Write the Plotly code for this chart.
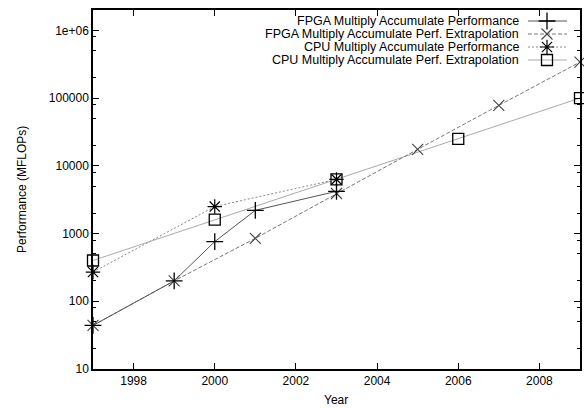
import plotly.graph_objects as go

# ---- data ----
fpga_years = [1997, 1999, 2000, 2001, 2003]
fpga_perf = [44, 200, 760, 2200, 4200]

fpga_ext_years = [1997, 1999, 2001, 2003, 2005, 2007, 2009]
fpga_ext_perf = [44, 200, 850, 3900, 17500, 78000, 340000]

cpu_years = [1997, 2000, 2003]
cpu_perf = [270, 2500, 6300]

cpu_ext_years = [1997, 2000, 2003, 2006, 2009]
cpu_ext_perf = [400, 1600, 6300, 25000, 100000]

series_names = [
    "FPGA Multiply Accumulate Performance",
    "FPGA Multiply Accumulate Perf. Extrapolation",
    "CPU Multiply Accumulate Performance",
    "CPU Multiply Accumulate Perf. Extrapolation",
]

x_ticks = [1998, 2000, 2002, 2004, 2006, 2008]
y_ticks = [10, 100, 1000, 10000, 100000, 1000000]
y_tick_text = ["10", "100", "1000", "10000", "100000", "1e+06"]
y_minor = [m * d for d in [10, 100, 1000, 10000, 100000, 1000000] for m in (2, 5, 8)]

FONT = "Liberation Sans, Arial, sans-serif"

styles = [
    dict(line=dict(color="#555555", width=1, dash="solid"),
         marker=dict(symbol="cross-thin", size=12, line=dict(color="black", width=1.3))),
    dict(line=dict(color="#777777", width=1, dash="4px,2px"),
         marker=dict(symbol="x-thin", size=11, line=dict(color="#444444", width=1.1))),
    dict(line=dict(color="#888888", width=1, dash="2px,2px"),
         marker=dict(symbol="asterisk", size=12, line=dict(color="black", width=1.2))),
    dict(line=dict(color="#aaaaaa", width=1, dash="solid"),
         marker=dict(symbol="square-open", size=11, color="black", line=dict(color="black", width=1.3))),
]

data = [
    (fpga_years, fpga_perf),
    (fpga_ext_years, fpga_ext_perf),
    (cpu_years, cpu_perf),
    (cpu_ext_years, cpu_ext_perf),
]

fig = go.Figure()
for i in [3, 1, 2, 0]:
    xs, ys = data[i]
    st = styles[i]
    fig.add_trace(go.Scatter(x=xs, y=ys, mode="lines+markers", name=series_names[i],
                             line=st["line"], marker=st["marker"], showlegend=False,
                             cliponaxis=False))

# custom gnuplot-style legend (text left, sample right)
L, R, T, B = 93, 580, 10, 369
W, H = R - L, B - T
row_y = [21, 34, 47, 60]
for i, name in enumerate(series_names):
    py = row_y[i]
    yf = (B - py) / H
    x0 = (528 - L) / W
    x1 = (567 - L) / W
    xm = (547 - L) / W
    st = styles[i]
    fig.add_trace(go.Scatter(x=[x0, x1], y=[yf, yf], mode="lines", line=st["line"],
                             xaxis="x2", yaxis="y2", showlegend=False, hoverinfo="skip"))
    fig.add_trace(go.Scatter(x=[xm], y=[yf], mode="markers", marker=st["marker"],
                             xaxis="x2", yaxis="y2", showlegend=False, hoverinfo="skip"))
    fig.add_annotation(x=(521 - L) / W, y=yf, xref="paper", yref="paper", text=name,
                       showarrow=False, xanchor="right", yanchor="middle",
                       font=dict(family=FONT, size=12.5, color="black"))

# axis titles as annotations for exact placement
fig.add_annotation(x=(336 - L) / W, y=(B - 400) / H, xref="paper", yref="paper",
                   text="Year", showarrow=False, xanchor="center", yanchor="middle",
                   font=dict(family=FONT, size=12, color="black"))
fig.add_annotation(x=(22 - L) / W, y=(B - 190) / H, xref="paper", yref="paper",
                   text="Performance (MFLOPs)", showarrow=False, textangle=-90,
                   xanchor="center", yanchor="middle",
                   font=dict(family=FONT, size=12, color="black"))

fig.update_layout(
    width=584, height=408,
    margin=dict(l=L, r=584 - R, t=T, b=408 - B, autoexpand=False),
    paper_bgcolor="white", plot_bgcolor="white",
    font=dict(family=FONT, size=12, color="black"),
    xaxis=dict(range=[1997, 2009], tickvals=x_ticks, ticks="inside", ticklen=6,
               tickwidth=1, tickcolor="black", showline=True, linecolor="black",
               linewidth=1.5, mirror="allticks", showgrid=False, zeroline=False,
               automargin=False, tickfont=dict(size=12)),
    yaxis=dict(type="log", range=[1, 6.3], tickvals=y_ticks, ticktext=y_tick_text,
               ticks="inside", ticklen=6, tickwidth=1, tickcolor="black",
               showline=True, linecolor="black", linewidth=1.5, mirror="allticks",
               showgrid=False, zeroline=False, automargin=False,
               minor=dict(tickvals=y_minor, ticks="inside", ticklen=3, tickcolor="black",
                          tickwidth=1),
               tickfont=dict(size=12)),
    xaxis2=dict(domain=[0, 1], range=[0, 1], visible=False, overlaying="x",
                fixedrange=True),
    yaxis2=dict(domain=[0, 1], range=[0, 1], visible=False, overlaying="y",
                anchor="x2", fixedrange=True),
)

fig.write_html("out.html", config={"displayModeBar": False},
               post_script="document.body.style.margin='0';document.body.style.overflow='hidden';")
